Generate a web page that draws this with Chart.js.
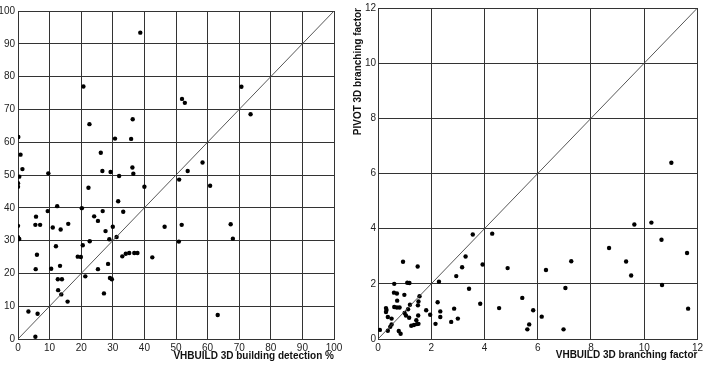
<!DOCTYPE html>
<html>
<head>
<meta charset="utf-8">
<script src="https://cdn.jsdelivr.net/npm/chart.js@4.4.1/dist/chart.umd.min.js"></script>
<style>
  html, body { margin: 0; padding: 0; background: #fff; }
  body { width: 706px; height: 370px; position: relative; overflow: hidden; }
  canvas { position: absolute; top: 0; }
  #detect { left: 0; }
  #branch { left: 340px; }
</style>
</head>
<body>
<canvas id="detect" width="350" height="370"></canvas>
<canvas id="branch" width="366" height="370"></canvas>
<script>
// left panel: building detection %, VHBUILD (x) vs PIVOT (y)
const detectX = [38.7, 20.7, 22.6, 36.3, 0.1, 30.7, 35.8, 0.8, 26.2, 1.4, 9.6, 26.7, 29.3, 32.0, 36.2, 36.5, 0.4,
  70.7, 51.9, 52.8, 73.6, 58.4, 53.7, 51.0, 0.0, 0.0, 22.3, 12.4, 9.4, 20.2, 31.7, 40.0, 26.8, 33.3, 24.1, 25.3,
  5.7, 0.0, 5.5, 7.0, 11.0, 13.5, 15.9, 27.7, 30.0, 31.2, 28.9, 46.4, 0.0, 0.4, 22.7, 50.9, 12.0, 20.5, 6.0,
  18.9, 19.9, 33.0, 34.1, 35.2, 36.8, 37.8, 42.5, 28.5, 13.3, 5.6, 10.5, 25.3, 21.3, 12.6, 13.9, 29.1, 29.7,
  12.7, 13.7, 27.2, 15.7, 3.3, 6.2, 5.5, 60.8, 51.8, 67.3, 68.0, 63.2];
const detectY = [93.4, 77.0, 65.5, 67.0, 61.6, 61.1, 61.0, 56.2, 56.8, 51.8, 50.5, 51.2, 50.9, 49.7, 52.3, 50.4, 49.5,
  76.9, 73.2, 72.0, 68.5, 53.8, 51.2, 48.6, 47.5, 46.4, 46.1, 40.5, 39.0, 39.9, 42.0, 46.4, 39.0, 38.8, 37.4, 36.0,
  37.3, 34.5, 34.8, 34.8, 34.0, 33.4, 35.1, 32.9, 34.2, 31.1, 30.4, 34.2, 31.0, 30.5, 29.8, 29.7, 28.3, 28.6, 25.7,
  25.1, 25.0, 25.2, 26.0, 26.2, 26.2, 26.2, 24.9, 22.9, 22.3, 21.3, 21.4, 21.3, 19.1, 18.2, 18.2, 18.6, 18.2,
  14.9, 13.6, 13.9, 11.4, 8.4, 7.7, 0.7, 46.7, 34.8, 35.0, 30.6, 7.3];
const detectRange = [0, 100];
const detectStep = 10;

// right panel: 3D branching factor
const branchX = [0.07, 0.94, 1.49, 0.61, 1.10, 1.18, 0.60, 0.71, 0.99, 1.56, 0.72, 1.52, 1.20, 1.50, 0.61, 0.71, 0.81,
  0.30, 0.32, 0.30, 1.13, 1.81, 2.24, 2.34, 2.86, 1.96, 1.51, 1.00, 1.05, 1.17, 0.37, 0.51, 1.44, 2.34, 3.00, 2.75,
  2.16, 1.25, 1.35, 1.46, 1.52, 0.51, 0.46, 0.37, 0.78, 0.85, 2.29, 2.94, 3.16, 3.29, 3.56, 4.29, 3.93, 4.87, 3.42,
  3.84, 4.55, 5.42, 5.83, 5.68, 5.61, 9.63, 10.27, 10.65, 8.68, 9.32, 9.51, 11.61, 7.26, 6.31, 10.67, 7.04, 11.65,
  6.15, 6.97, 11.02];
const branchY = [0.33, 2.80, 2.63, 2.00, 2.04, 2.03, 1.68, 1.65, 1.60, 1.55, 1.39, 1.36, 1.24, 1.22, 1.16, 1.14, 1.14,
  1.12, 1.05, 0.98, 1.08, 1.04, 1.33, 1.00, 1.10, 0.88, 0.85, 0.94, 0.85, 0.77, 0.80, 0.74, 0.68, 0.80, 0.74, 0.62,
  0.55, 0.48, 0.51, 0.54, 0.55, 0.53, 0.44, 0.30, 0.29, 0.19, 2.08, 2.28, 2.60, 2.99, 3.79, 3.82, 2.70, 2.57, 1.82,
  1.28, 1.12, 1.49, 1.04, 0.53, 0.35, 4.15, 4.22, 3.60, 3.30, 2.81, 2.30, 3.12, 2.82, 2.50, 1.96, 1.85, 1.10,
  0.81, 0.35, 6.39];
const branchRange = [0, 12];
const branchStep = 2;

Chart.defaults.font.family = '"Liberation Sans", Arial, Helvetica, sans-serif';
Chart.defaults.font.size = 10;
Chart.defaults.color = '#222';

const GRID = '#333';

const pts = (xs, ys) => xs.map((x, i) => ({ x: x, y: ys[i] }));

function makePanel(canvasId, xs, ys, range, step, xTitle, yTitle, box) {
  const ctx = document.getElementById(canvasId);
  return new Chart(ctx, {
    type: 'scatter',
    data: {
      datasets: [
        {
          // y = x reference line
          type: 'line',
          data: [{ x: range[0], y: range[0] }, { x: range[1], y: range[1] }],
          borderColor: '#444',
          borderWidth: 0.9,
          pointRadius: 0,
          fill: false
        },
        {
          data: pts(xs, ys),
          backgroundColor: '#000',
          borderWidth: 0,
          pointRadius: 2.2
        }
      ]
    },
    options: {
      responsive: false,
      animation: false,
      devicePixelRatio: 1,
      layout: { padding: box.padding },
      plugins: { legend: { display: false }, tooltip: { enabled: false } },
      scales: {
        x: {
          type: 'linear',
          min: range[0], max: range[1],
          ticks: { stepSize: step, padding: 3, maxRotation: 0 },
          grid: { color: GRID, lineWidth: 1, drawTicks: false },
          border: { color: GRID, width: 1 },
          title: {
            display: true, text: xTitle, align: 'end',
            font: { size: 10, weight: 'bold' }, color: '#111',
            padding: { top: 0, bottom: box.xTitlePad }
          },
          afterFit: s => { s.height = 31; }
        },
        y: {
          type: 'linear',
          min: range[0], max: range[1],
          ticks: { stepSize: step, padding: box.yTickPad },
          grid: { color: GRID, lineWidth: 1, drawTicks: false },
          border: { color: GRID, width: 1 },
          title: {
            display: !!yTitle, text: yTitle, align: 'end',
            font: { size: 10, weight: 'bold' }, color: '#111',
            padding: { top: box.yTitlePad, bottom: 0 }
          },
          afterFit: s => { s.width = box.yWidth; }
        }
      }
    }
  });
}

makePanel('detect', detectX, detectY, detectRange, detectStep,
  'VHBUILD 3D building detection %', '',
  { padding: { top: 11, right: 16, left: 0, bottom: 0 }, yWidth: 18, yTickPad: 3, xTitlePad: 8, yTitlePad: 0 });

makePanel('branch', branchX, branchY, branchRange, branchStep,
  'VHBUILD 3D branching factor', 'PIVOT 3D branching factor',
  { padding: { top: 4, right: 5, left: 0, bottom: 0 }, yWidth: 38, yTickPad: 2, xTitlePad: 9, yTitlePad: 12 });
</script>
</body>
</html>
